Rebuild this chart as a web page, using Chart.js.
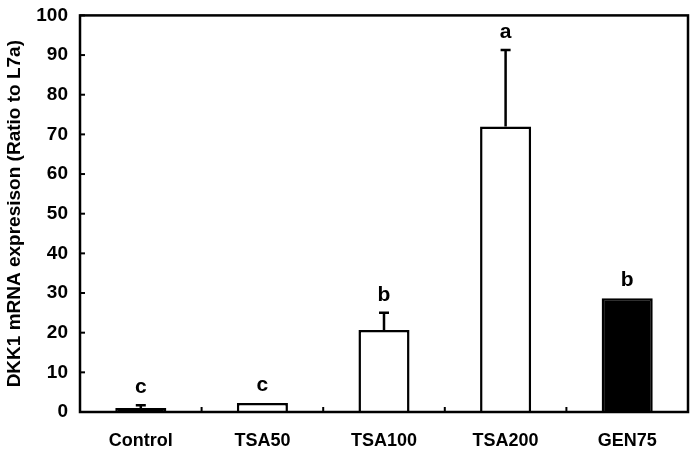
<!DOCTYPE html>
<html lang="en">
<head>
    <meta charset="UTF-8">
    <title>DKK1 mRNA expression</title>
    <script src="https://cdn.jsdelivr.net/npm/chart.js"></script>
    <style>
        * {
            margin: 0;
            padding: 0;
            box-sizing: border-box;
        }

        body {
            background: #ffffff;
        }

        .chart-container {
            width: 696px;
            height: 453px;
        }
    </style>
</head>
<body>
    <div class="chart-container">
        <canvas id="dkkChart"></canvas>
    </div>

    <script>
        const categories = ['Control', 'TSA50', 'TSA100', 'TSA200', 'GEN75'];
        const means = [1.0, 2.3, 20.7, 72.0, 28.7];
        const errors = [0.7, 0, 4.3, 19.3, 0];
        const letters = ['c', 'c', 'b', 'a', 'b'];
        const barColors = ['#000000', '#ffffff', '#ffffff', '#ffffff', '#000000'];
        const yTicks = [0, 10, 20, 30, 40, 50, 60, 70, 80, 90, 100];

        const FONT = '"Liberation Sans", Arial, sans-serif';

        // frame, inside tick marks, error bars and significance letters
        const decorations = {
            id: 'decorations',
            afterDatasetsDraw(chart) {
                const ctx = chart.ctx;
                const area = chart.chartArea;
                const x = chart.scales.x;
                const y = chart.scales.y;

                ctx.save();
                ctx.strokeStyle = '#000';
                ctx.lineCap = 'butt';

                // error bars (upper only)
                ctx.lineWidth = 2.5;
                means.forEach((m, i) => {
                    if (!errors[i]) return;
                    const cx = x.getPixelForValue(i);
                    const y0 = y.getPixelForValue(m);
                    const y1 = y.getPixelForValue(m + errors[i]);
                    ctx.beginPath();
                    ctx.moveTo(cx, y0);
                    ctx.lineTo(cx, y1);
                    ctx.moveTo(cx - 5, y1);
                    ctx.lineTo(cx + 5, y1);
                    ctx.stroke();
                });

                // letters above bars
                ctx.fillStyle = '#000';
                ctx.font = 'bold 21px ' + FONT;
                ctx.textAlign = 'center';
                ctx.textBaseline = 'alphabetic';
                letters.forEach((l, i) => {
                    const cx = x.getPixelForValue(i);
                    const top = y.getPixelForValue(means[i] + errors[i]);
                    ctx.fillText(l, cx, top - 12);
                });

                // y tick marks, pointing inward
                ctx.lineWidth = 2;
                yTicks.forEach(v => {
                    const py = y.getPixelForValue(v);
                    ctx.beginPath();
                    ctx.moveTo(area.left, py);
                    ctx.lineTo(area.left + 5, py);
                    ctx.stroke();
                });

                // x tick marks between categories
                for (let i = 1; i < categories.length; i++) {
                    const px = (x.getPixelForValue(i - 1) + x.getPixelForValue(i)) / 2;
                    ctx.beginPath();
                    ctx.moveTo(px, area.bottom);
                    ctx.lineTo(px, area.bottom - 5);
                    ctx.stroke();
                }

                // box around plot
                ctx.lineWidth = 2.5;
                ctx.strokeRect(area.left, area.top, area.right - area.left, area.bottom - area.top);
                ctx.restore();
            }
        };

        new Chart(document.getElementById('dkkChart'), {
            type: 'bar',
            data: {
                labels: categories,
                datasets: [{
                    data: means,
                    backgroundColor: barColors,
                    borderColor: '#000000',
                    borderWidth: 2.5,
                    categoryPercentage: 1,
                    barPercentage: 0.42
                }]
            },
            options: {
                responsive: true,
                maintainAspectRatio: false,
                animation: false,
                layout: {
                    padding: { top: 1, right: 8, left: 0, bottom: 0 }
                },
                plugins: {
                    legend: { display: false },
                    tooltip: { enabled: false }
                },
                scales: {
                    x: {
                        grid: { display: false },
                        border: { display: false },
                        ticks: {
                            color: '#000',
                            padding: 10,
                            font: { family: FONT, size: 18, weight: 'bold' }
                        },
                        afterFit: s => { s.height = 41; }
                    },
                    y: {
                        min: 0,
                        max: 100,
                        grid: { display: false },
                        border: { display: false },
                        ticks: {
                            stepSize: 10,
                            color: '#000',
                            padding: 4,
                            font: { family: FONT, size: 19, weight: 'bold' }
                        },
                        title: {
                            display: true,
                            text: 'DKK1 mRNA expresison (Ratio to L7a)',
                            color: '#000',
                            padding: { top: 3, bottom: 0 },
                            font: { family: FONT, size: 19, weight: 'bold' }
                        },
                        afterFit: s => { s.width = 80; }
                    }
                }
            },
            plugins: [decorations]
        });
    </script>
</body>
</html>
